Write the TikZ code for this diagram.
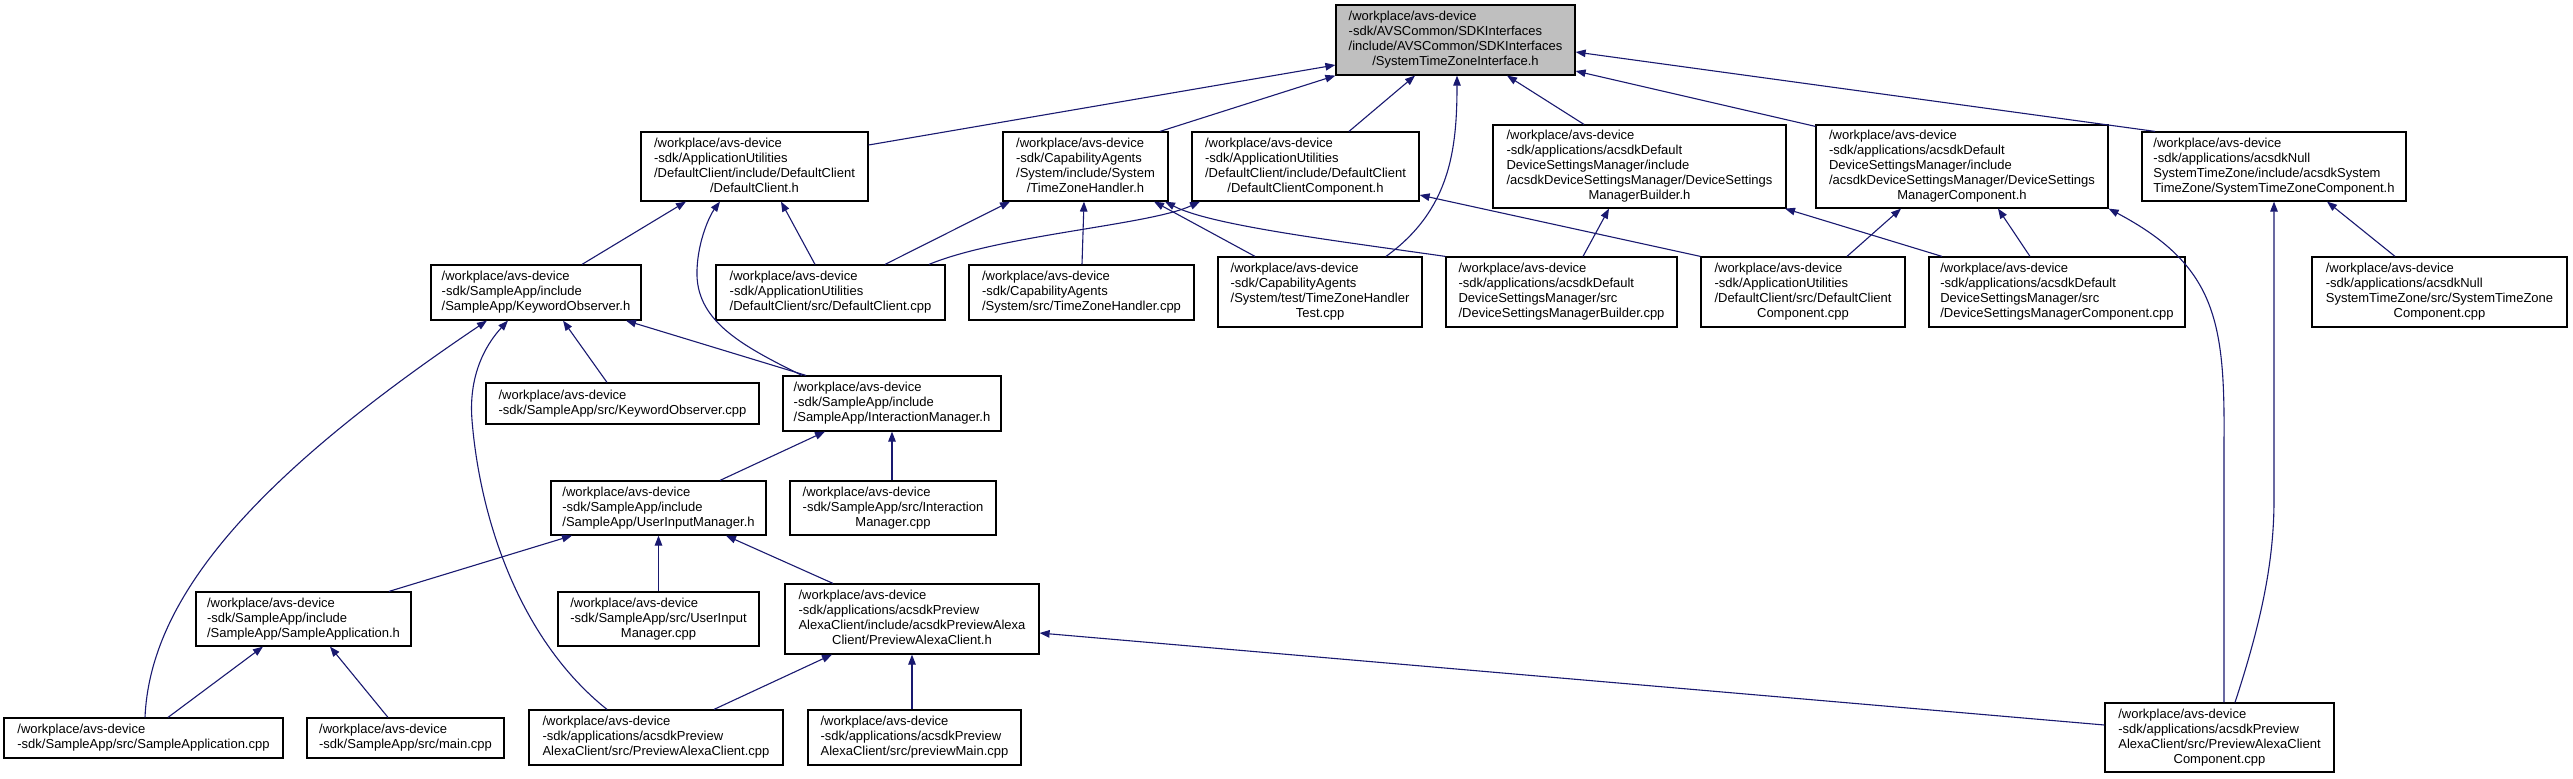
\documentclass[tikz,border=0pt]{standalone}
\usepackage{fontspec}
\setmainfont{Liberation Sans}
\usetikzlibrary{arrows.meta}
\definecolor{edgeblue}{RGB}{25,25,112}
\definecolor{rootgray}{RGB}{191,191,191}
\newcommand{\lab}[2]{\begin{tabular}{@{}l@{}}#1\multicolumn{1}{@{}c@{}}{#2}\end{tabular}}
\begin{document}
\begin{tikzpicture}[x=1pt,y=-1pt,
  filebox/.style={draw=black, line width=1.2pt, fill=white, inner sep=0pt,
    font=\fontsize{13pt}{15pt}\selectfont},
  rootbox/.style={filebox, fill=rootgray},
  dep/.style={draw=edgeblue, line width=1.1pt, -{Triangle[length=10pt,width=7.5pt]}}]
\useasboundingbox[fill=white] (0,0) rectangle (2573,779);

% row 1
\node[rootbox, minimum width=239pt, minimum height=70pt] (root) at (1455.5,40)
  {\lab{/workplace/avs-device\\-sdk/AVSCommon/SDKInterfaces\\/include/AVSCommon/SDKInterfaces\\}{/SystemTimeZoneInterface.h}};

% row 2
\node[filebox, minimum width=227pt, minimum height=69pt] (dch) at (754.5,166.5)
  {\lab{/workplace/avs-device\\-sdk/ApplicationUtilities\\/DefaultClient/include/DefaultClient\\}{/DefaultClient.h}};
\node[filebox, minimum width=165pt, minimum height=69pt] (tzh) at (1085.5,166.5)
  {\lab{/workplace/avs-device\\-sdk/CapabilityAgents\\/System/include/System\\}{/TimeZoneHandler.h}};
\node[filebox, minimum width=227pt, minimum height=69pt] (dcch) at (1305.5,166.5)
  {\lab{/workplace/avs-device\\-sdk/ApplicationUtilities\\/DefaultClient/include/DefaultClient\\}{/DefaultClientComponent.h}};
\node[filebox, minimum width=293pt, minimum height=83pt] (dsmbh) at (1639.5,166.5)
  {\lab{/workplace/avs-device\\-sdk/applications/acsdkDefault\\DeviceSettingsManager/include\\/acsdkDeviceSettingsManager/DeviceSettings\\}{ManagerBuilder.h}};
\node[filebox, minimum width=292pt, minimum height=83pt] (dsmch) at (1962,166.5)
  {\lab{/workplace/avs-device\\-sdk/applications/acsdkDefault\\DeviceSettingsManager/include\\/acsdkDeviceSettingsManager/DeviceSettings\\}{ManagerComponent.h}};
\node[filebox, minimum width=264pt, minimum height=69pt] (stzch) at (2274,166.5)
  {\lab{/workplace/avs-device\\-sdk/applications/acsdkNull\\SystemTimeZone/include/acsdkSystem\\}{TimeZone/SystemTimeZoneComponent.h}};

% row 3
\node[filebox, minimum width=210pt, minimum height=55pt] (koh) at (536,292.5)
  {\lab{/workplace/avs-device\\-sdk/SampleApp/include\\}{/SampleApp/KeywordObserver.h}};
\node[filebox, minimum width=229pt, minimum height=55pt] (dccpp) at (830.5,292.5)
  {\lab{/workplace/avs-device\\-sdk/ApplicationUtilities\\}{/DefaultClient/src/DefaultClient.cpp}};
\node[filebox, minimum width=225pt, minimum height=55pt] (tzhcpp) at (1081.5,292.5)
  {\lab{/workplace/avs-device\\-sdk/CapabilityAgents\\}{/System/src/TimeZoneHandler.cpp}};
\node[filebox, minimum width=204pt, minimum height=70pt] (tzhtest) at (1320,292)
  {\lab{/workplace/avs-device\\-sdk/CapabilityAgents\\/System/test/TimeZoneHandler\\}{Test.cpp}};
\node[filebox, minimum width=231pt, minimum height=70pt] (dsmbcpp) at (1561.5,292)
  {\lab{/workplace/avs-device\\-sdk/applications/acsdkDefault\\DeviceSettingsManager/src\\}{/DeviceSettingsManagerBuilder.cpp}};
\node[filebox, minimum width=204pt, minimum height=70pt] (dcccpp) at (1803,292)
  {\lab{/workplace/avs-device\\-sdk/ApplicationUtilities\\/DefaultClient/src/DefaultClient\\}{Component.cpp}};
\node[filebox, minimum width=256pt, minimum height=70pt] (dsmccpp) at (2057,292)
  {\lab{/workplace/avs-device\\-sdk/applications/acsdkDefault\\DeviceSettingsManager/src\\}{/DeviceSettingsManagerComponent.cpp}};
\node[filebox, minimum width=255pt, minimum height=70pt] (stzccpp) at (2439.5,292)
  {\lab{/workplace/avs-device\\-sdk/applications/acsdkNull\\SystemTimeZone/src/SystemTimeZone\\}{Component.cpp}};

% row 4
\node[filebox, minimum width=273pt, minimum height=41pt] (kocpp) at (622.5,403.5)
  {\lab{/workplace/avs-device\\}{-sdk/SampleApp/src/KeywordObserver.cpp}};
\node[filebox, minimum width=218pt, minimum height=55pt] (imh) at (892,403.5)
  {\lab{/workplace/avs-device\\-sdk/SampleApp/include\\}{/SampleApp/InteractionManager.h}};

% row 5
\node[filebox, minimum width=215pt, minimum height=54pt] (uimh) at (658.5,508)
  {\lab{/workplace/avs-device\\-sdk/SampleApp/include\\}{/SampleApp/UserInputManager.h}};
\node[filebox, minimum width=206pt, minimum height=54pt] (imcpp) at (893,508)
  {\lab{/workplace/avs-device\\-sdk/SampleApp/src/Interaction\\}{Manager.cpp}};

% row 6
\node[filebox, minimum width=215pt, minimum height=54pt] (sah) at (303.5,619)
  {\lab{/workplace/avs-device\\-sdk/SampleApp/include\\}{/SampleApp/SampleApplication.h}};
\node[filebox, minimum width=201pt, minimum height=54pt] (uimcpp) at (658.5,619)
  {\lab{/workplace/avs-device\\-sdk/SampleApp/src/UserInput\\}{Manager.cpp}};
\node[filebox, minimum width=254pt, minimum height=70pt] (pach) at (912,619)
  {\lab{/workplace/avs-device\\-sdk/applications/acsdkPreview\\AlexaClient/include/acsdkPreviewAlexa\\}{Client/PreviewAlexaClient.h}};

% row 7
\node[filebox, minimum width=279pt, minimum height=40pt] (sacpp) at (143.5,738)
  {\lab{/workplace/avs-device\\}{-sdk/SampleApp/src/SampleApplication.cpp}};
\node[filebox, minimum width=197pt, minimum height=40pt] (maincpp) at (405.5,738)
  {\lab{/workplace/avs-device\\}{-sdk/SampleApp/src/main.cpp}};
\node[filebox, minimum width=254pt, minimum height=55pt] (paccpp) at (656,737.5)
  {\lab{/workplace/avs-device\\-sdk/applications/acsdkPreview\\}{AlexaClient/src/PreviewAlexaClient.cpp}};
\node[filebox, minimum width=213pt, minimum height=55pt] (pmcpp) at (914.5,737.5)
  {\lab{/workplace/avs-device\\-sdk/applications/acsdkPreview\\}{AlexaClient/src/previewMain.cpp}};
\node[filebox, minimum width=229pt, minimum height=69pt] (paccomp) at (2219.5,737.5)
  {\lab{/workplace/avs-device\\-sdk/applications/acsdkPreview\\AlexaClient/src/PreviewAlexaClient\\}{Component.cpp}};

% edges into root
\draw[dep] ([yshift=21.5pt]dch.east) -- ([yshift=-25pt]root.west);
\draw[dep] ([xshift=74.5pt]tzh.north) -- (root.south west);
\draw[dep] ([xshift=43.5pt]dcch.north) -- ([xshift=-40.5pt]root.south);
\draw[dep] ([xshift=66pt]tzhtest.north) .. controls (1450,210) and (1457,150) .. ([xshift=1.5pt]root.south);
\draw[dep] ([xshift=-55.5pt]dsmbh.north) -- ([xshift=51.5pt]root.south);
\draw[dep] ([yshift=-2pt]dsmch.north west) -- ([yshift=-31pt]root.east);
\draw[dep] ([xshift=-119pt]stzch.north) -- ([yshift=-12pt]root.east);

% edges into DefaultClient.h
\draw[dep] ([xshift=46pt]koh.north) -- ([xshift=-68.5pt]dch.south);
\draw[dep] ([xshift=-90pt]imh.north) .. controls (740,345) and (695,320) .. (697,270)
  .. controls (698,240) and (710,215) .. ([xshift=-34.5pt]dch.south);
\draw[dep] ([xshift=-15.5pt]dccpp.north) -- ([xshift=26.5pt]dch.south);

% into KeywordObserver.h
\draw[dep] ([xshift=-86pt]imh.north) -- ([xshift=90pt]koh.south);
\draw[dep] ([xshift=-15.5pt]kocpp.north) -- ([xshift=27pt]koh.south);
\draw[dep] ([xshift=1.5pt]sacpp.north) .. controls (150,600) and (250,480) .. ([xshift=-49pt]koh.south);
\draw[dep] ([xshift=-49pt]paccpp.north) .. controls (520,640) and (480,520) .. (472,420)
  .. controls (468,370) and (490,340) .. ([xshift=-28pt]koh.south);

% into TimeZoneHandler.h
\draw[dep] ([xshift=54.5pt]dccpp.north) -- ([xshift=-75.5pt]tzh.south);
\draw[dep] ([xshift=0.5pt]tzhcpp.north) -- ([xshift=-1.5pt]tzh.south);
\draw[dep] ([xshift=-65pt]tzhtest.north) -- ([xshift=68.5pt]tzh.south);
\draw[dep] (dsmbcpp.north west) .. controls (1330,240) and (1210,225) .. ([xshift=79.5pt]tzh.south);

% into DefaultClientComponent.h
\draw[dep] ([xshift=98.5pt]dccpp.north) .. controls (1000,235) and (1150,225) .. ([xshift=-105.5pt]dcch.south);
\draw[dep] (dcccpp.north west) -- ([yshift=-28.5pt]dcch.east);

% into DeviceSettingsManagerBuilder.h
\draw[dep] ([xshift=21.5pt]dsmbcpp.north) -- ([xshift=-30.5pt]dsmbh.south);
\draw[dep] ([xshift=-115pt]dsmccpp.north) -- ([xshift=145.5pt]dsmbh.south);

% into DeviceSettingsManagerComponent.h
\draw[dep] ([xshift=44pt]dcccpp.north) -- ([xshift=-61pt]dsmch.south);
\draw[dep] ([xshift=-27pt]dsmccpp.north) -- ([xshift=36pt]dsmch.south);
\draw[dep] ([xshift=4.5pt]paccomp.north) -- (2224,440) .. controls (2225,320) and (2215,265) .. (dsmch.south east);

% into SystemTimeZoneComponent.h
\draw[dep] ([xshift=15.5pt]paccomp.north) .. controls (2262,620) and (2274,560) .. (2274,500) -- (stzch.south);
\draw[dep] ([xshift=-44.5pt]stzccpp.north) -- ([xshift=53pt]stzch.south);

% into InteractionManager.h
\draw[dep] ([xshift=-1pt]imcpp.north) -- (imh.south);
\draw[dep] ([xshift=61.5pt]uimh.north) -- ([xshift=-67pt]imh.south);

% into UserInputManager.h
\draw[dep] ([xshift=85.5pt]sah.north) -- ([xshift=-86.5pt]uimh.south);
\draw[dep] (uimcpp.north) -- (uimh.south);
\draw[dep] ([xshift=-79pt]pach.north) -- ([xshift=67.5pt]uimh.south);

% into SampleApplication.h
\draw[dep] ([xshift=24.5pt]sacpp.north) -- ([xshift=-40.5pt]sah.south);
\draw[dep] ([xshift=-17.5pt]maincpp.north) -- ([xshift=26.5pt]sah.south);

% into PreviewAlexaClient.h
\draw[dep] ([xshift=58pt]paccpp.north) -- ([xshift=-80pt]pach.south);
\draw[dep] ([xshift=-2.5pt]pmcpp.north) -- (pach.south);
\draw[dep] ([yshift=12.5pt]paccomp.west) -- ([yshift=-14pt]pach.east);
\end{tikzpicture}
\end{document}
